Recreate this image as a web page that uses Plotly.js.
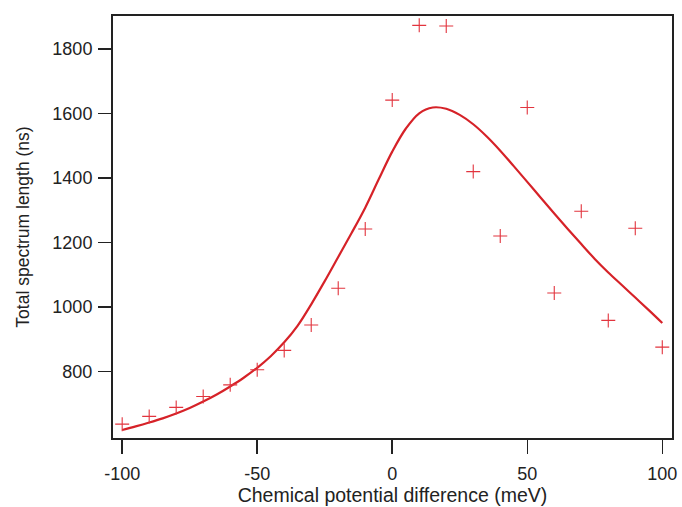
<!DOCTYPE html>
<html>
<head>
<meta charset="utf-8">
<script src="https://cdn.plot.ly/plotly-3.0.1.min.js"></script>
<style>html,body{margin:0;padding:0;background:#fff;}#chart{width:682px;height:507px;}</style>
</head>
<body>
<div id="chart"></div>
<script>
// Measured data (chemical potential difference in meV, total spectrum length in ns)
const dataX = [-100, -90, -80, -70, -60, -50, -40, -30, -20, -10, 0, 10, 20, 30, 40, 50, 60, 70, 80, 90, 100];
const dataY = [636, 660, 688, 722, 758, 805, 865, 944, 1058, 1242, 1642, 1874, 1872, 1420, 1220, 1619, 1043, 1297, 958, 1244, 875];

// Fitted curve
const fitX = [-100, -95, -90, -85, -80, -75, -70, -65, -60, -55, -50, -45, -40, -35, -30, -25, -20, -15, -10, -5, 0, 5, 10, 15, 20, 25, 30, 35, 40, 45, 50, 55, 60, 65, 70, 75, 80, 85, 90, 95, 100];
const fitY = [618, 629, 641, 654, 669, 686, 706, 728, 753, 780, 811, 847, 890, 942, 1008, 1080, 1155, 1230, 1308, 1396, 1482, 1553, 1601, 1619, 1615, 1596, 1567, 1529, 1485, 1437, 1388, 1339, 1290, 1242, 1195, 1149, 1107, 1068, 1029, 990, 950];

const yTicks = [800, 1000, 1200, 1400, 1600, 1800];
const xTicks = [-100, -50, 0, 50, 100];

const fontFam = 'Liberation Sans, Arial, sans-serif';

const traces = [
  {
    x: fitX, y: fitY, type: 'scatter', mode: 'lines',
    line: {color: 'rgb(214,34,40)', width: 2.2, shape: 'spline', smoothing: 1},
    hoverinfo: 'skip', showlegend: false
  },
  {
    x: dataX, y: dataY, type: 'scatter', mode: 'markers',
    marker: {symbol: 'cross-thin-open', size: 10, color: 'rgb(226,52,62)', line: {color: 'rgb(226,52,62)', width: 1.1}},
    showlegend: false
  }
];

const layout = {
  width: 682, height: 507,
  margin: {l: 113, r: 8, t: 16, b: 69},
  paper_bgcolor: '#fff', plot_bgcolor: '#fff',
  font: {family: fontFam, color: '#222'},
  xaxis: {
    range: [-103.4, 103.6],
    tickvals: xTicks, ticktext: xTicks.map(String),
    ticks: 'outside', ticklen: 14, tickwidth: 1.5, tickcolor: '#222',
    showline: true, linecolor: '#222', linewidth: 2, mirror: true,
    showgrid: false, zeroline: false,
    tickfont: {size: 18, family: fontFam, color: '#222'},
    ticklabelstandoff: 4,
    automargin: 'height',
    title: {text: 'Chemical potential difference (meV)', font: {size: 19.5, family: fontFam, color: '#222'}, standoff: 0}
  },
  yaxis: {
    range: [593, 1903],
    tickvals: yTicks, ticktext: yTicks.map(String),
    ticks: 'outside', ticklen: 13, tickwidth: 1.5, tickcolor: '#222',
    showline: true, linecolor: '#222', linewidth: 2, mirror: true,
    showgrid: false, zeroline: false,
    tickfont: {size: 18, family: fontFam, color: '#222'},
    ticklabelstandoff: 2,
    automargin: 'width',
    title: {text: 'Total spectrum length (ns)', font: {size: 17.5, family: fontFam, color: '#222'}, standoff: 18}
  }
};

Plotly.newPlot('chart', traces, layout, {displayModeBar: false, staticPlot: true});
</script>
</body>
</html>
